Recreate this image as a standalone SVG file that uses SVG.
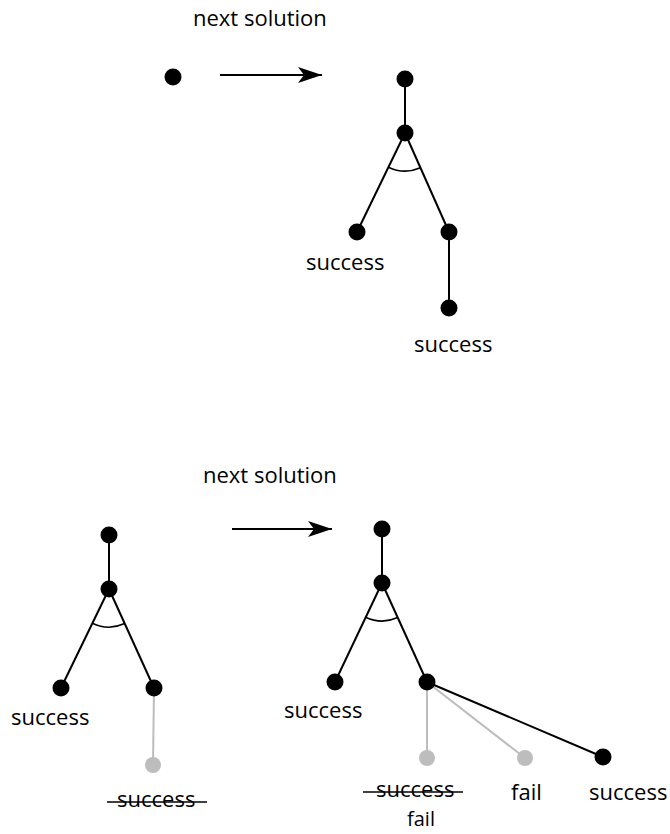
<svg xmlns="http://www.w3.org/2000/svg" width="670" height="834" viewBox="0 0 670 834">
<defs>
<style>
.edge{stroke:#000;stroke-width:2;fill:none}
.ghost{stroke:#bdbdbd;stroke-width:2;fill:none}
.arc{stroke:#000;stroke-width:1.6;fill:none}
.dot{fill:#000}
.gdot{fill:#bdbdbd}
.lbl{font-family:"Open Sans","Noto Sans",sans-serif;font-size:22px;fill:#000}
.sm{font-size:20px}
.strike{stroke:#000;stroke-width:1.5}
</style>
<marker id="ah" viewBox="0 0 24 16" refX="24" refY="8" markerWidth="24" markerHeight="16" markerUnits="userSpaceOnUse" orient="auto">
<path d="M0,0 L24,8 L0,16 L6,8 Z" fill="#000"/>
</marker>
</defs>
<rect width="670" height="834" fill="#fff"/>

<g id="connectors">
<!-- top -->
<line class="edge" x1="220" y1="75" x2="322" y2="75" marker-end="url(#ah)"/>
<line class="edge" x1="405" y1="79" x2="405" y2="133"/>
<line class="edge" x1="405" y1="133" x2="357" y2="232"/>
<line class="edge" x1="405" y1="133" x2="449" y2="232"/>
<line class="edge" x1="449" y1="232" x2="449" y2="308"/>
<path class="arc" d="M388.4,167.2 A38,38 0 0 0 420.4,167.7"/>
<!-- bottom left -->
<line class="edge" x1="232" y1="529" x2="332" y2="529" marker-end="url(#ah)"/>
<line class="edge" x1="109" y1="535" x2="109" y2="589"/>
<line class="edge" x1="109" y1="589" x2="61" y2="688"/>
<line class="edge" x1="109" y1="589" x2="154" y2="688"/>
<line class="ghost" x1="154" y1="688" x2="153" y2="765"/>
<path class="arc" d="M92.4,623.2 A38,38 0 0 0 124.7,623.6"/>
<!-- bottom right -->
<line class="edge" x1="382" y1="529" x2="382" y2="583"/>
<line class="edge" x1="382" y1="583" x2="335" y2="682"/>
<line class="edge" x1="382" y1="583" x2="427" y2="682"/>
<line class="ghost" x1="427" y1="682" x2="427" y2="758"/>
<line class="ghost" x1="427" y1="682" x2="525" y2="758"/>
<line class="edge" x1="427" y1="682" x2="603" y2="757"/>
<path class="arc" d="M365.7,617.3 A38,38 0 0 0 397.7,617.6"/>
</g>

<g id="title-top"><text class="lbl" x="193" y="26">next solution</text></g>
<g id="title-bottom"><text class="lbl" x="203" y="483">next solution</text></g>

<g id="t1-single"><circle class="dot" cx="173" cy="77" r="8.5"/></g>
<g id="t2-root"><circle class="dot" cx="405" cy="79" r="8.5"/></g>
<g id="t2-and"><circle class="dot" cx="405" cy="133" r="8.5"/></g>
<g id="t2-left"><circle class="dot" cx="357" cy="232" r="8.5"/><text class="lbl" x="306" y="270">success</text></g>
<g id="t2-right"><circle class="dot" cx="449" cy="232" r="8.5"/></g>
<g id="t2-leaf"><circle class="dot" cx="449" cy="308" r="8.5"/><text class="lbl" x="414" y="352">success</text></g>

<g id="t3-root"><circle class="dot" cx="109" cy="535" r="8.5"/></g>
<g id="t3-and"><circle class="dot" cx="109" cy="589" r="8.5"/></g>
<g id="t3-left"><circle class="dot" cx="61" cy="688" r="8.5"/><text class="lbl" x="11" y="725">success</text></g>
<g id="t3-right"><circle class="dot" cx="154" cy="688" r="8.5"/></g>
<g id="t3-ghost"><circle class="gdot" cx="153" cy="765" r="8"/><text class="lbl" x="117" y="807">success</text><line class="strike" x1="107" y1="802" x2="207" y2="802"/></g>

<g id="t4-root"><circle class="dot" cx="382" cy="529" r="8.5"/></g>
<g id="t4-and"><circle class="dot" cx="382" cy="583" r="8.5"/></g>
<g id="t4-left"><circle class="dot" cx="335" cy="682" r="8.5"/><text class="lbl" x="284" y="718">success</text></g>
<g id="t4-right"><circle class="dot" cx="427" cy="682" r="8.5"/></g>
<g id="t4-ghost1"><circle class="gdot" cx="427" cy="758" r="8"/><text class="lbl" x="376" y="797">success</text><line class="strike" x1="363" y1="792" x2="463" y2="792"/><text class="lbl sm" x="407" y="826">fail</text></g>
<g id="t4-ghost2"><circle class="gdot" cx="525" cy="758" r="8"/><text class="lbl" x="511" y="800">fail</text></g>
<g id="t4-new"><circle class="dot" cx="603" cy="757" r="8.5"/><text class="lbl" x="589" y="800">success</text></g>
</svg>
